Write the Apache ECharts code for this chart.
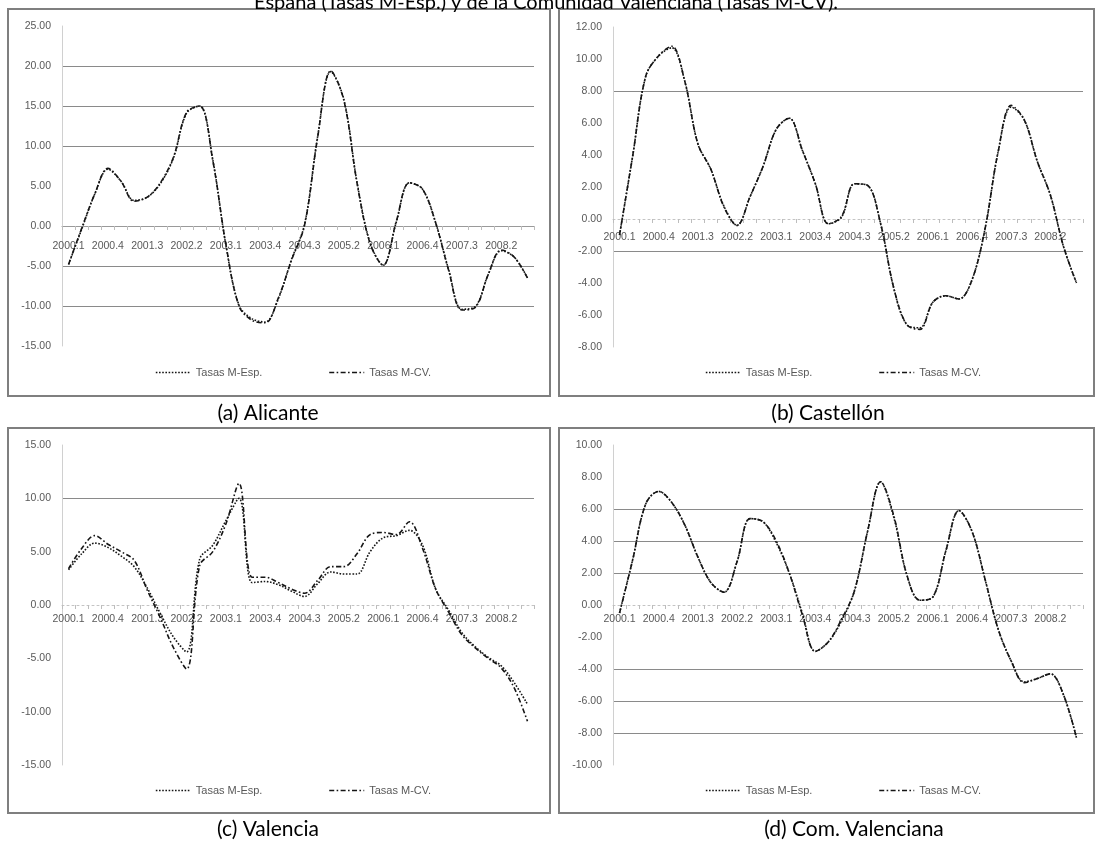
<!DOCTYPE html>
<html>
<head>
<meta charset="utf-8">
<script src="https://cdn.jsdelivr.net/npm/echarts@6/dist/echarts.min.js"></script>
<style>
html,body{margin:0;padding:0;background:#ffffff;}
#c{width:1096px;height:843px;}
</style>
</head>
<body>
<div id="c"></div>
<script>
// ---- data ----
const quarters = ['2000.1','2000.2','2000.3','2000.4','2001.1','2001.2','2001.3','2001.4',
  '2002.1','2002.2','2002.3','2002.4','2003.1','2003.2','2003.3','2003.4',
  '2004.1','2004.2','2004.3','2004.4','2005.1','2005.2','2005.3','2005.4',
  '2006.1','2006.2','2006.3','2006.4','2007.1','2007.2','2007.3','2007.4',
  '2008.1','2008.2','2008.3','2008.4'];

const seriesNames = ['Tasas M-Esp.', 'Tasas M-CV.'];

const alicanteEsp = [-4.8,-0.4,4.0,7.1,5.6,3.2,3.6,5.3,8.5,14.1,15.0,8.3,-2.4,-9.9,-11.6,-12.0,-9.1,-4.2,0.2,11.2,19.3,15.8,5.5,-2.1,-4.9,0.5,5.4,4.6,0.4,-5.5,-10.4,-10.1,-6.1,-3.1,-3.9,-6.5];
const alicanteCV  = [-4.8,-0.3,4.0,7.2,5.6,3.1,3.6,5.4,8.6,14.2,15.0,8.2,-2.3,-10.0,-11.8,-12.1,-9.0,-4.3,0.1,11.1,19.4,15.7,5.4,-2.2,-4.9,0.6,5.4,4.6,0.4,-5.6,-10.5,-10.2,-6.1,-3.0,-3.9,-6.5];

const castellonEsp = [-1.0,3.9,8.9,10.2,10.7,8.6,4.7,3.1,0.8,-0.4,1.4,3.3,5.6,6.3,4.3,2.2,-0.3,0.1,2.2,2.1,-0.3,-4.3,-6.6,-6.8,-5.2,-4.8,-5.0,-3.8,-0.6,4.2,7.0,6.2,3.6,1.5,-1.7,-4.0];
const castellonCV  = [-1.0,3.9,8.9,10.2,10.8,8.6,4.7,3.1,0.75,-0.4,1.4,3.3,5.6,6.3,4.3,2.2,-0.3,0.15,2.2,2.1,-0.3,-4.3,-6.6,-6.9,-5.2,-4.8,-5.0,-3.8,-0.6,4.2,7.1,6.2,3.6,1.5,-1.7,-4.0];

const valenciaEsp = [3.3,4.8,5.8,5.4,4.6,3.6,1.6,-0.8,-3.0,-4.4,4.3,5.6,7.9,10.0,2.1,2.2,1.9,1.3,0.8,2.0,3.1,2.9,2.9,5.0,6.3,6.5,7.0,5.6,1.5,-0.5,-2.6,-3.9,-4.9,-5.7,-7.3,-9.3];
const valenciaCV  = [3.4,5.3,6.5,5.7,5.0,4.2,1.4,-1.2,-4.0,-6.0,3.7,5.0,7.6,11.4,2.6,2.6,2.1,1.5,1.1,2.3,3.6,3.6,4.8,6.6,6.8,6.6,7.8,5.3,1.5,-0.7,-2.8,-4.0,-5.0,-5.9,-7.8,-10.9];

const comvalEsp = [-0.5,2.8,6.3,7.1,6.4,5.0,3.0,1.4,0.8,2.7,5.4,5.2,3.9,2.0,-0.5,-2.9,-2.3,-1.0,0.9,4.6,7.7,5.5,1.9,0.3,0.5,3.4,5.9,4.6,1.6,-1.5,-3.5,-4.8,-4.6,-4.3,-5.6,-8.3];
const comvalCV  = [-0.5,2.8,6.3,7.1,6.4,5.0,3.0,1.4,0.8,2.7,5.4,5.2,4.0,2.0,-0.6,-2.9,-2.3,-0.9,0.9,4.6,7.7,5.6,1.9,0.3,0.5,3.4,5.9,4.6,1.6,-1.5,-3.5,-4.85,-4.6,-4.3,-5.6,-8.3];

// visible horizontal gridlines in each panel
const alicanteGridValues  = [20,15,10,-5,-10];
const castellonGridValues = [8,-2];
const valenciaGridValues  = [10];
const comvalGridValues    = [6,4,2,-4,-6,-8];

const captions = ['(a) Alicante','(b) Castellón','(c) Valencia','(d) Com. Valenciana'];
const topTitle = 'España (Tasas M-Esp.) y de la Comunidad Valenciana (Tasas M-CV).';

// ---- layout / style ----
const AXIS_FONT = '"Liberation Sans", Arial, sans-serif';
const CAP_FONT = 'Lato, "Open Sans", sans-serif';
const LINE_COLOR = '#151515';
const LW = 1.6;
const espDash = [1.6, 1.6];
const cvDash = [5, 2.4, 1.6, 2.4];

const panels = [
  {grid:{left:62, top:26, width:472, height:320}, min:-15, max:25, interval:5, gridVals:alicanteGridValues, esp:alicanteEsp, cv:alicanteCV, zeroSolid:true, labelMargin:15, legend:{left:150, top:362}, frame:[8,9,542,387], cap:[268,413]},
  {grid:{left:613, top:27, width:470, height:320}, min:-8, max:12, interval:2, gridVals:castellonGridValues, esp:castellonEsp, cv:castellonCV, zeroSolid:false, labelMargin:13, legend:{left:700, top:362}, frame:[559,9,535,387], cap:[828,413]},
  {grid:{left:62, top:445, width:472, height:320}, min:-15, max:15, interval:5, gridVals:valenciaGridValues, esp:valenciaEsp, cv:valenciaCV, zeroSolid:false, labelMargin:9, legend:{left:150, top:780}, frame:[8,428,542,385], cap:[268,829]},
  {grid:{left:613, top:445, width:470, height:320}, min:-10, max:10, interval:2, gridVals:comvalGridValues, esp:comvalEsp, cv:comvalCV, zeroSolid:false, labelMargin:9, legend:{left:700, top:780}, frame:[559,428,535,385], cap:[854,829]}
];

const grids = [], xAxes = [], yAxes = [], series = [], legends = [], graphics = [];

panels.forEach((p, i) => {
  grids.push(Object.assign({containLabel:false, outerBoundsMode:'none'}, p.grid));
  const ticks = [];
  for (let v = p.min; v <= p.max + 1e-9; v += p.interval) ticks.push(Math.round(v*100)/100);
  const splitColors = ticks.map(v => p.gridVals.indexOf(v) >= 0 ? '#8a8a8a' : 'rgba(0,0,0,0)');
  // place the category axis on the zero value of the y scale
  const zeroOffset = -p.grid.height * (0 - p.min) / (p.max - p.min);
  xAxes.push({
    type:'category', gridIndex:i, data:quarters, boundaryGap:true, position:'bottom', offset:zeroOffset,
    axisLine:{show:true, onZero:false, lineStyle:{color: p.zeroSolid ? '#9a9a9a' : '#c4c4c4', width:1, type: p.zeroSolid ? 'solid' : [2,3]}},
    axisTick:{show:true, interval:0, length:4, lineStyle:{color:'#bdbdbd'}},
    axisLabel:{interval:2, fontSize:10.5, color:'#595959', fontFamily:AXIS_FONT, margin:p.labelMargin, hideOverlap:false},
    splitLine:{show:false}
  });
  yAxes.push({
    type:'value', gridIndex:i, min:p.min, max:p.max, interval:p.interval,
    axisLine:{show:true, onZero:false, lineStyle:{color:'#d0d0d0', width:1}},
    axisTick:{show:false},
    axisLabel:{fontSize:10.5, color:'#595959', fontFamily:AXIS_FONT, margin:11, formatter: v => v.toFixed(2)},
    splitLine:{show:true, lineStyle:{color:splitColors, width:1}}
  });
  series.push({
    name:seriesNames[0], type:'line', xAxisIndex:i, yAxisIndex:i, data:p.esp,
    smooth:0.35, symbol:'none', silent:true,
    lineStyle:{color:LINE_COLOR, width:LW, type:espDash}, itemStyle:{color:LINE_COLOR}
  });
  series.push({
    name:seriesNames[1], type:'line', xAxisIndex:i, yAxisIndex:i, data:p.cv,
    smooth:0.35, symbol:'none', silent:true,
    lineStyle:{color:LINE_COLOR, width:LW, type:cvDash}, itemStyle:{color:LINE_COLOR}
  });
  legends.push({
    left:p.legend.left, top:p.legend.top, orient:'horizontal',
    itemWidth:35, itemHeight:10, itemGap:66, selectedMode:false,
    itemStyle:{opacity:0, borderWidth:0},
    textStyle:{fontSize:11, color:'#595959', fontFamily:AXIS_FONT},
    data:[
      {name:seriesNames[0], lineStyle:{color:LINE_COLOR, width:LW, type:espDash}},
      {name:seriesNames[1], lineStyle:{color:LINE_COLOR, width:LW, type:cvDash}}
    ]
  });
  graphics.push({
    type:'rect', silent:true, z:-1,
    shape:{x:p.frame[0], y:p.frame[1], width:p.frame[2], height:p.frame[3]},
    style:{fill:'none', stroke:'#7f7f7f', lineWidth:2}
  });
  graphics.push({
    type:'text', silent:true,
    style:{text:captions[i], x:p.cap[0], y:p.cap[1], align:'center', verticalAlign:'middle', textAlign:'center', textVerticalAlign:'middle',
      font:'21px ' + CAP_FONT, fill:'#000000'}
  });
});

graphics.push({
  type:'text', silent:true,
  style:{text:topTitle, x:546, y:3, align:'center', verticalAlign:'middle', textAlign:'center', textVerticalAlign:'middle',
    font:'20px ' + CAP_FONT, fill:'#000000'}
});

const chart = echarts.init(document.getElementById('c'), null, {renderer:'canvas'});
chart.setOption({
  backgroundColor:'#ffffff',
  animation:false,
  grid:grids, xAxis:xAxes, yAxis:yAxes, series:series, legend:legends, graphic:graphics
});
</script>
</body>
</html>
